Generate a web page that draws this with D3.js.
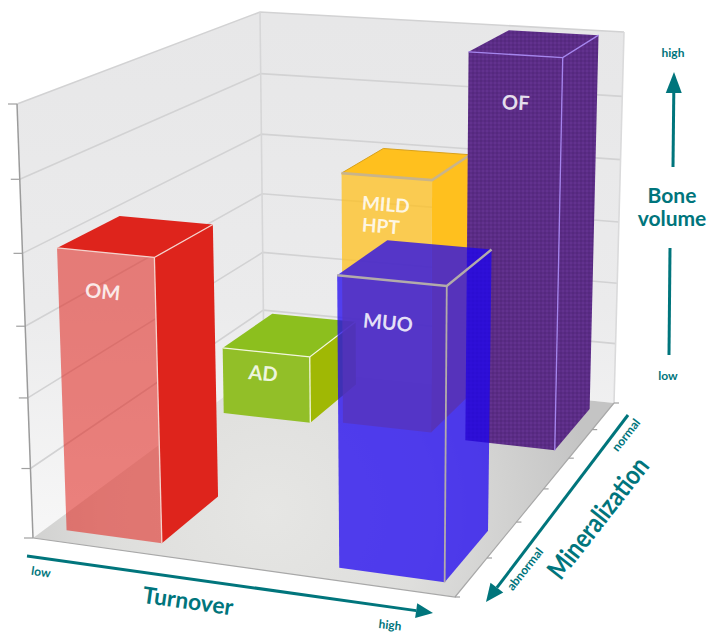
<!DOCTYPE html>
<html>
<head>
<meta charset="utf-8">
<style>
body{margin:0;background:#fff}
text{font-family:Lato,"Noto Sans",sans-serif;font-weight:700}
</style>
</head>
<body>
<div id="chart"></div>
<script src="https://d3js.org/d3.v7.min.js"></script>
<script>
// values
const categories = ['OM', 'AD', 'MILD HPT', 'OF', 'MUO']
const turnoverFrom = [0.05, 0.055, 0.38, 0.72, 0.715]
const turnoverTo = [0.29, 0.30, 0.62, 0.952, 0.955]
const mineralFrom = [0.05, 0.70, 0.72, 0.70, 0.05]
const mineralTo = [0.28, 0.95, 0.95, 0.95, 0.28]
const boneVolume = [4, 1.08, 4, 6, 4]
const turnoverLabels = ['low', 'high']
const mineralLabels = ['abnormal', 'normal']
const volumeLabels = ['low', 'high']

const teal = '#00757c'
const width = 714, height = 640

const turnoverScale = d3.scaleLinear().domain([0, 1]).range([0, 1])
const mineralScale = d3.scaleLinear().domain([0, 1]).range([0, 1])
const volumeScale = d3.scaleLinear().domain([0, 6]).range([0, 1])

// quad -> unit square mapping, one for the floor and one for the ceiling of the box
function homography([p0, p1, p2, p3]){
    const dx1 = p1[0]-p2[0], dx2 = p3[0]-p2[0], sx = p0[0]-p1[0]+p2[0]-p3[0]
    const dy1 = p1[1]-p2[1], dy2 = p3[1]-p2[1], sy = p0[1]-p1[1]+p2[1]-p3[1]
    const det = dx1*dy2 - dx2*dy1
    const g = (sx*dy2 - dx2*sy)/det, k = (dx1*sy - sx*dy1)/det
    const a = p1[0]-p0[0]+g*p1[0], b = p3[0]-p0[0]+k*p3[0]
    const d = p1[1]-p0[1]+g*p1[1], e = p3[1]-p0[1]+k*p3[1]
    return (u, v) => {
        const z = g*u + k*v + 1
        return [(a*u + b*v + p0[0])/z, (d*u + e*v + p0[1])/z]
    }
}
const floorMap = homography([[33,538],[455,597],[614,403],[264,367]])
const ceilMap = homography([[17,104],[459,139],[624,32],[260,12]])
const persp = 0.953

function project(t, m, vol){
    const u = turnoverScale(t), v = mineralScale(m), w = volumeScale(vol)
    const p0 = floorMap(u, v), p1 = ceilMap(u, v)
    const z = 1 + w*(persp-1)
    return [(p0[0] + w*(persp*p1[0]-p0[0]))/z, (p0[1] + w*(persp*p1[1]-p0[1]))/z]
}

const svg = d3.select('#chart').append('svg').attr('width', width).attr('height', height).style('display', 'block')
const defs = svg.append('defs')

const wallGrad = defs.append('linearGradient').attr('id', 'wall').attr('gradientUnits', 'userSpaceOnUse')
    .attr('x1', 0).attr('y1', 20).attr('x2', 0).attr('y2', 540)
wallGrad.append('stop').attr('offset', 0).attr('stop-color', '#e7e7e8')
wallGrad.append('stop').attr('offset', 0.55).attr('stop-color', '#ebebec')
wallGrad.append('stop').attr('offset', 1).attr('stop-color', '#f7f7f7')

const floorGrad = defs.append('radialGradient').attr('id', 'floor').attr('gradientUnits', 'userSpaceOnUse')
    .attr('cx', 270).attr('cy', 510).attr('r', 320)
floorGrad.append('stop').attr('offset', 0).attr('stop-color', '#e6e6e4')
floorGrad.append('stop').attr('offset', 0.5).attr('stop-color', '#dededc')
floorGrad.append('stop').attr('offset', 1).attr('stop-color', '#c4c4c4')

const weave = defs.append('pattern').attr('id', 'weave').attr('patternUnits', 'userSpaceOnUse')
    .attr('width', 4).attr('height', 4)
weave.append('rect').attr('width', 4).attr('height', 4).attr('fill', '#5b2c86')
weave.append('rect').attr('width', 2).attr('height', 2).attr('fill', '#55297e')
weave.append('rect').attr('x', 2).attr('y', 2).attr('width', 2).attr('height', 2).attr('fill', '#62328e')

const path = d3.line()

// walls and floor
const walls = svg.append('g')
walls.append('path').attr('fill', 'url(#wall)')
    .attr('d', path([project(0,0,0), project(0,0,6), project(0,1,6), project(1,1,6), project(1,1,0), project(0,1,0)]) + 'Z')
walls.append('path').attr('fill', 'url(#floor)')
    .attr('d', path([project(0,0,0), project(1,0,0), project(1,1,0), project(0,1,0)]) + 'Z')

// grid on both walls, one line per volume tick
const volumeTicks = volumeScale.ticks(6)
walls.selectAll('path.grid').data(volumeTicks.slice(1)).join('path').attr('class', 'grid')
    .attr('fill', 'none').attr('stroke', '#d2d2d3').attr('stroke-width', 1.6)
    .attr('d', d => path([project(0,0,d), project(0,1,d), project(1,1,d)]))
walls.append('path').attr('fill', 'none').attr('stroke', '#d6d6d7').attr('stroke-width', 1.6)
    .attr('d', path([project(0,1,0), project(0,1,6)]))
walls.append('path').attr('fill', 'none').attr('stroke', '#dadadb').attr('stroke-width', 1.6)
    .attr('d', path([project(1,1,0), project(1,1,6)]))
walls.append('path').attr('fill', 'none').attr('stroke', '#9b9b9b').attr('stroke-width', 1.5)
    .attr('d', path([project(0,0,0), project(0,0,6)]))
walls.append('path').attr('fill', 'none').attr('stroke', '#a8a8a8').attr('stroke-width', 1.2)
    .attr('d', path([project(0,0,0), project(1,0,0), project(1,1,0)]))

// ticks on the volume edge and along the mineralization edge
const mineralTicks = d3.range(7).map(d => d/6)
walls.selectAll('path.vtick').data(volumeTicks).join('path').attr('class', 'vtick')
    .attr('fill', 'none').attr('stroke', '#a0a0a0').attr('stroke-width', 1.2)
    .attr('d', d => { const p = project(0,0,d); return path([p, [p[0]-9, p[1]]]) })
walls.selectAll('path.mtick').data(mineralTicks).join('path').attr('class', 'mtick')
    .attr('fill', 'none').attr('stroke', '#a0a0a0').attr('stroke-width', 1.2)
    .attr('d', d => { const p = project(1,d,0); return path([p, [p[0]+5, p[1]]]) })

// face styles for each category
const faceStyle = {
    'OM': {front: 'rgba(224,36,28,0.56)', side: '#de241c', top: '#de241c', edge: '#f4d2cc', edgeW: 1.3},
    'AD': {front: '#92bf28', side: '#a0b804', top: '#8cbf1e', edge: '#f2f6dc', edgeW: 1.3},
    'MILD HPT': {front: 'rgba(255,192,30,0.75)', side: '#ffc01e', top: '#ffc01e', edge: '#c9b48a', edgeW: 2.6},
    'OF': {front: 'url(#weave)', side: 'url(#weave)', top: 'url(#weave)', edge: '#a585ee', edgeW: 1.3},
    'MUO': {front: 'rgba(30,4,240,0.75)', side: 'rgba(30,4,240,0.75)', top: 'rgba(30,4,240,0.75)', edge: '#b3abaa', edgeW: 2.4}
}
// label placement on the front face, pixels from the face centre top
const labelShift = {'OM': [-3, 39], 'AD': [-3, 21], 'OF': [0, 48], 'MUO': [-4, 42], 'MILD HPT': [-1, 28]}

const bars = svg.selectAll('g.bar').data(categories).join('g').attr('class', 'bar')
bars.each(function(name, i){
    const g = d3.select(this), st = faceStyle[name]
    const t0 = turnoverFrom[i], t1 = turnoverTo[i], m0 = mineralFrom[i], m1 = mineralTo[i], h = boneVolume[i]
    const fl = project(t0,m0,0), fr = project(t1,m0,0), br = project(t1,m1,0)
    const tfl = project(t0,m0,h), tfr = project(t1,m0,h), tbr = project(t1,m1,h), tbl = project(t0,m1,h)
    g.append('path').attr('fill', st.side).attr('d', path([fr, br, tbr, tfr]) + 'Z')
    g.append('path').attr('fill', st.top).attr('d', path([tfl, tfr, tbr, tbl]) + 'Z')
    g.append('path').attr('fill', st.front).attr('d', path([fl, fr, tfr, tfl]) + 'Z')
    if (name === 'MILD HPT') {
        g.append('path').attr('fill', 'none').attr('stroke', '#d9a11a').attr('stroke-width', 1)
            .attr('d', path([tfl, tbl, tbr]))
    }
    // seams between the faces
    g.append('path').attr('fill', 'none').attr('stroke', st.edge).attr('stroke-width', st.edgeW)
        .attr('d', path([tfl, tfr, tbr]))
    g.append('path').attr('fill', 'none').attr('stroke', st.edge)
        .attr('stroke-width', name === 'MILD HPT' ? 0 : Math.min(st.edgeW, 1.8))
        .attr('d', path([tfr, fr]))
    // label
    const cx = (tfl[0]+tfr[0])/2 + labelShift[name][0], cy = (tfl[1]+tfr[1])/2 + labelShift[name][1]
    const angle = Math.atan2(tfr[1]-tfl[1], tfr[0]-tfl[0])*180/Math.PI
    const lines = name.split(' ')
    lines.forEach((line, k) => {
        g.append('text').attr('transform', `translate(${cx},${cy + k*22}) rotate(${angle})`)
            .attr('text-anchor', lines.length > 1 ? 'start' : 'middle')
            .attr('x', lines.length > 1 ? -24 : 0)
            .attr('dy', '0.35em').attr('fill', '#fff').attr('fill-opacity', 0.85)
            .style('font-size', lines.length > 1 ? '19px' : '20px').text(line)
    })
})

// teal axis arrows
function arrow(from, to, headLen, headW, w){
    const a = Math.atan2(to[1]-from[1], to[0]-from[0])
    const c = Math.cos(a), s = Math.sin(a)
    const base = [to[0]-headLen*c, to[1]-headLen*s]
    svg.append('path').attr('fill', 'none').attr('stroke', teal).attr('stroke-width', w)
        .attr('d', path([from, base]))
    svg.append('path').attr('fill', teal)
        .attr('d', path([to, [base[0]-headW*s, base[1]+headW*c], [base[0]+headW*s, base[1]-headW*c]]) + 'Z')
}
function label(txt, x, y, angle, size, len){
    const t = svg.append('text').attr('transform', `translate(${x},${y}) rotate(${angle})`)
        .attr('text-anchor', 'middle').attr('dy', '0.35em').attr('fill', teal)
        .style('font-size', size + 'px').text(txt)
    if (len) t.attr('textLength', len).attr('lengthAdjust', 'spacingAndGlyphs')
}
arrow([27,556], [433,613], 17, 7.5, 3)
arrow([628,415], [486,602], 18, 8, 3)
arrow([673,167], [674,72], 21, 8, 3)
svg.append('path').attr('fill', 'none').attr('stroke', teal).attr('stroke-width', 3)
    .attr('d', path([[670,248], [669,355]]))

label(turnoverLabels[0], 41, 572, 8, 12)
label('Turnover', 188, 601, 8, 23, 91)
label(turnoverLabels[1], 390, 625, 6, 12)
label(mineralLabels[0], 525, 569, -52, 12)
label('Mineralization', 598, 518, -52, 27, 146)
label(mineralLabels[1], 626, 435, -52, 12)
label(volumeLabels[1], 673, 53, 0, 12)
label('Bone', 672, 196, 0, 21)
label('volume', 672, 219, 0, 21)
label(volumeLabels[0], 668, 376, 0, 12)
</script>
</body>
</html>
